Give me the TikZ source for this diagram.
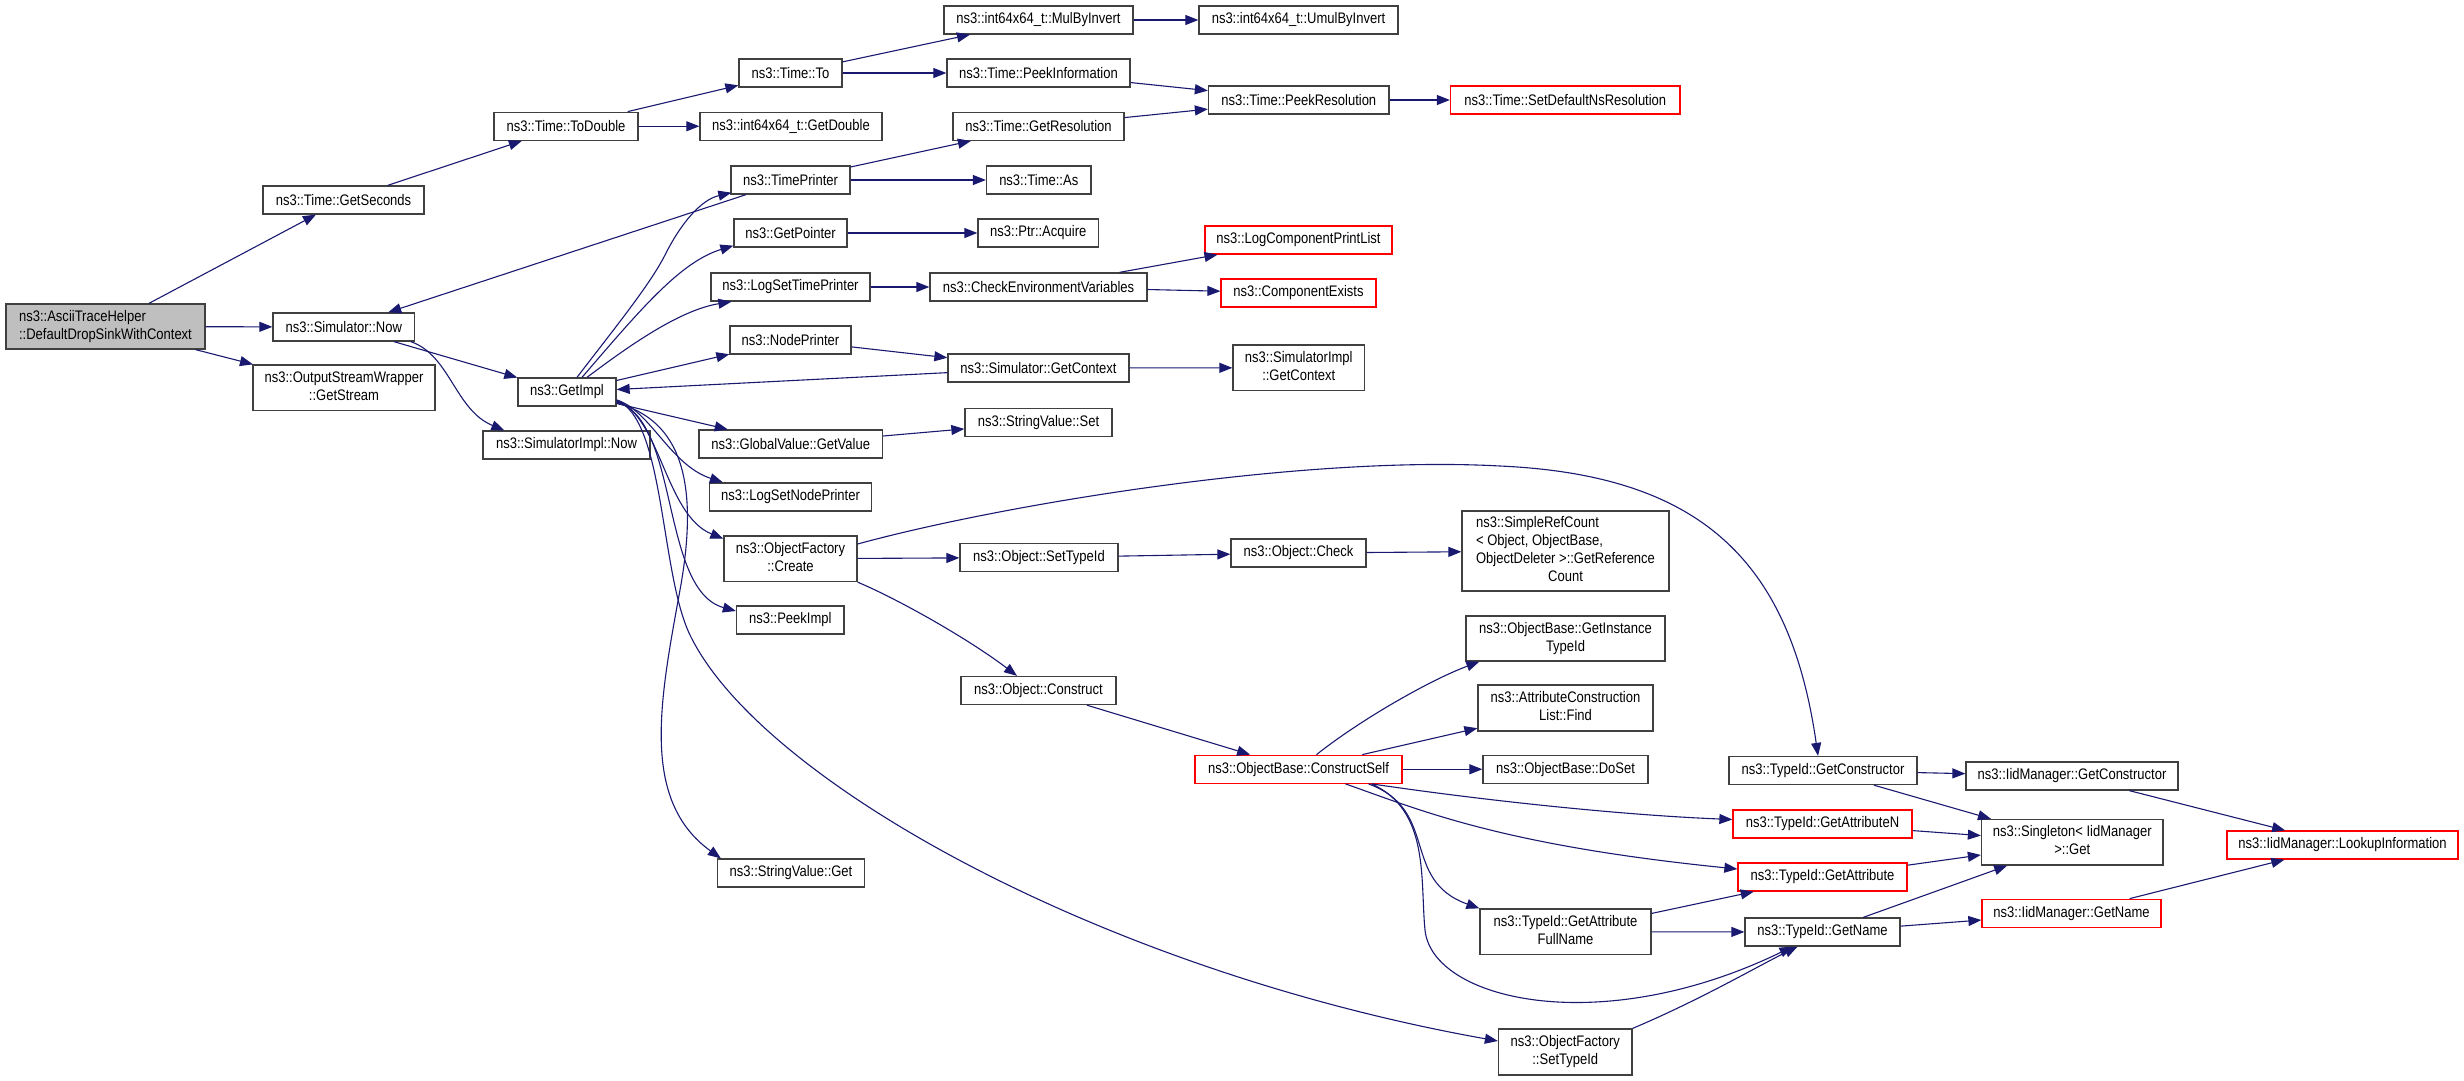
\documentclass[tikz,border=0pt]{standalone}
\usepackage{fontspec}
\setmainfont{Liberation Sans}[FakeStretch=0.85]
\usetikzlibrary{calc,arrows.meta}
\definecolor{edgec}{HTML}{191970}
\definecolor{boxc}{HTML}{404040}
\definecolor{redc}{HTML}{FF0000}
\definecolor{mainfill}{HTML}{BFBFBF}
\newcommand{\mlines}[2]{\begin{tabular}{@{}l@{}}#1\\\multicolumn{1}{@{}c@{}}{#2}\end{tabular}}
\begin{document}
\begin{tikzpicture}[x=1pt,y=-1pt,
 box/.style={draw=boxc, line width=1.3pt, fill=white, inner sep=0pt, minimum height=28pt, font=\fontsize{15.3}{17.9}\selectfont},
 rbox/.style={box, draw=redc},
 e/.style={draw=edgec, line width=1.1pt, -{Triangle[length=13pt,width=10pt]}}]
\useasboundingbox (0,0) rectangle (2464,1080);

% nodes
\node[box, fill=mainfill, minimum width=199pt, minimum height=45pt] (main) at (105.5,326.5) {\mlines{ns3::AsciiTraceHelper}{::DefaultDropSinkWithContext}};
\node[box, minimum width=161pt] (gsec) at (343.5,200) {ns3::Time::GetSeconds};
\node[box, minimum width=141.5pt] (now) at (343.75,327) {ns3::Simulator::Now};
\node[box, minimum width=182pt, minimum height=45.5pt] (gstream) at (344,387.75) {\mlines{ns3::OutputStreamWrapper}{::GetStream}};
\node[box, minimum width=144pt] (todbl) at (566,126.25) {ns3::Time::ToDouble};
\node[box, minimum width=103pt] (timeto) at (790.5,73) {ns3::Time::To};
\node[box, minimum width=182pt] (getdbl) at (791,126.25) {ns3::int64x64\_t::GetDouble};
\node[box, minimum width=189pt] (mulinv) at (1038.5,20) {ns3::int64x64\_t::MulByInvert};
\node[box, minimum width=199pt] (umulinv) at (1298.5,20) {ns3::int64x64\_t::UmulByInvert};
\node[box, minimum width=183pt] (peekinfo) at (1038.5,73) {ns3::Time::PeekInformation};
\node[box, minimum width=180.5pt] (peekres) at (1298.75,100) {ns3::Time::PeekResolution};
\node[rbox, minimum width=229.5pt] (setdef) at (1565.25,100) {ns3::Time::SetDefaultNsResolution};
\node[box, minimum width=171pt] (getres) at (1038.5,126.25) {ns3::Time::GetResolution};
\node[box, minimum width=119pt] (tprint) at (790.5,180) {ns3::TimePrinter};
\node[box, minimum width=104.5pt] (tas) at (1038.75,180) {ns3::Time::As};
\node[box, minimum width=98pt] (getimpl) at (567,392) {ns3::GetImpl};
\node[box, minimum width=167pt] (simnow) at (566.5,445) {ns3::SimulatorImpl::Now};
\node[box, minimum width=113pt] (getptr) at (790.5,233) {ns3::GetPointer};
\node[box, minimum width=120.5pt] (acquire) at (1038.25,233) {ns3::Ptr::Acquire};
\node[box, minimum width=159pt] (logstp) at (790.5,287) {ns3::LogSetTimePrinter};
\node[box, minimum width=217pt] (checkenv) at (1038.5,287) {ns3::CheckEnvironmentVariables};
\node[rbox, minimum width=187pt] (lcpl) at (1298.5,240) {ns3::LogComponentPrintList};
\node[rbox, minimum width=155pt] (cexists) at (1298.5,293) {ns3::ComponentExists};
\node[box, minimum width=121pt] (nprint) at (790.5,340) {ns3::NodePrinter};
\node[box, minimum width=181pt] (getctx) at (1038.5,368) {ns3::Simulator::GetContext};
\node[box, minimum width=131.5pt, minimum height=45.5pt] (simctx) at (1298.75,367.75) {\mlines{ns3::SimulatorImpl}{::GetContext}};
\node[box, minimum width=183.5pt] (gvget) at (790.75,444) {ns3::GlobalValue::GetValue};
\node[box, minimum width=147pt] (svset) at (1038.5,422.5) {ns3::StringValue::Set};
\node[box, minimum width=162pt] (lsnp) at (790.5,497) {ns3::LogSetNodePrinter};
\node[box, minimum width=133pt, minimum height=45.5pt] (ofcreate) at (790.5,558.75) {\mlines{ns3::ObjectFactory}{::Create}};
\node[box, minimum width=158pt] (osettid) at (1039,557.5) {ns3::Object::SetTypeId};
\node[box, minimum width=135pt] (ocheck) at (1298.5,553) {ns3::Object::Check};
\node[box, minimum width=207pt, minimum height=80pt] (srefc) at (1565.5,551) {\mlines{ns3::SimpleRefCount\\< Object, ObjectBase,\\ObjectDeleter >::GetReference}{Count}};
\node[box, minimum width=107.5pt] (peekimpl) at (790.25,620) {ns3::PeekImpl};
\node[box, minimum width=155pt] (oconstruct) at (1038.5,690.5) {ns3::Object::Construct};
\node[rbox, minimum width=207pt] (cself) at (1298.5,769.25) {ns3::ObjectBase::ConstructSelf};
\node[box, minimum width=199pt, minimum height=45pt] (ginst) at (1565.5,638.5) {\mlines{ns3::ObjectBase::GetInstance}{TypeId}};
\node[box, minimum width=175pt, minimum height=46pt] (acfind) at (1565.5,708) {\mlines{ns3::AttributeConstruction}{List::Find}};
\node[box, minimum width=165pt] (doset) at (1565.5,769.25) {ns3::ObjectBase::DoSet};
\node[box, minimum width=147pt] (svget) at (791,873) {ns3::StringValue::Get};
\node[box, minimum width=188pt] (tgctor) at (1823,770.5) {ns3::TypeId::GetConstructor};
\node[rbox, minimum width=179pt] (tgan) at (1822.5,824) {ns3::TypeId::GetAttributeN};
\node[rbox, minimum width=169pt] (tga) at (1822.5,877) {ns3::TypeId::GetAttribute};
\node[box, minimum width=171pt, minimum height=45.5pt] (tgafn) at (1565.5,931.75) {\mlines{ns3::TypeId::GetAttribute}{FullName}};
\node[box, minimum width=155pt] (tgname) at (1822.5,932) {ns3::TypeId::GetName};
\node[box, minimum width=133.5pt, minimum height=46pt] (ofsettid) at (1565.25,1052) {\mlines{ns3::ObjectFactory}{::SetTypeId}};
\node[box, minimum width=212pt] (igctor) at (2072,776) {ns3::IidManager::GetConstructor};
\node[box, minimum width=181.5pt, minimum height=45.5pt] (singleton) at (2072.25,842.25) {\mlines{ns3::Singleton< IidManager}{>::Get}};
\node[rbox, minimum width=231pt] (lookup) at (2342.5,845) {ns3::IidManager::LookupInformation};
\node[rbox, minimum width=179pt] (igname) at (2071.5,913.25) {ns3::IidManager::GetName};

% straight edges
\draw[e] (main) -- (gsec);
\draw[e] (main) -- (now);
\draw[e] (main) -- (gstream);
\draw[e] (gsec) -- (todbl);
\draw[e] (todbl) -- (timeto);
\draw[e] (todbl) -- (getdbl);
\draw[e] (timeto) -- (mulinv);
\draw[e] (timeto) -- (peekinfo);
\draw[e] (mulinv) -- (umulinv);
\draw[e] (peekinfo) -- (peekres);
\draw[e] (getres) -- (peekres);
\draw[e] (peekres) -- (setdef);
\draw[e] (tprint) -- (getres);
\draw[e] (tprint) -- (tas);
\draw[e] (tprint) -- (now);
\draw[e] (now) -- (getimpl);
\draw[e] (getptr) -- (acquire);
\draw[e] (logstp) -- (checkenv);
\draw[e] (checkenv) -- (lcpl);
\draw[e] (checkenv) -- (cexists);
\draw[e] (getimpl) -- (nprint);
\draw[e] (nprint) -- (getctx);
\draw[e] (getctx) -- (getimpl);
\draw[e] (getctx) -- (simctx);
\draw[e] (getimpl) -- (gvget);
\draw[e] (gvget) -- (svset);
\draw[e] (ofcreate) -- (osettid);
\draw[e] (osettid) -- (ocheck);
\draw[e] (ocheck) -- (srefc);
\draw[e] (oconstruct) -- (cself);
\draw[e] (cself) -- (acfind);
\draw[e] (cself) -- (doset);
\draw[e] (tgafn) -- (tga);
\draw[e] (tgafn) -- (tgname);
\draw[e] (tgctor) -- (igctor);
\draw[e] (tgctor) -- (singleton);
\draw[e] (tgan) -- (singleton);
\draw[e] (tga) -- (singleton);
\draw[e] (tgname) -- (singleton);
\draw[e] (tgname) -- (igname);
\draw[e] (igctor) -- (lookup);
\draw[e] (igname) -- (lookup);

% curved edges
\draw[e] ($(now.south)+(67,0)$) .. controls (450,355) and (455,410) .. ($(simnow.north west)+(22,0)$);
\draw[e] ($(getimpl.north)+(10,0)$) .. controls (610,334) and (650,285) .. (665,255) .. controls (680,225) and (700,200) .. ($(tprint.south west)+(1,-2)$);
\draw[e] ($(getimpl.north)+(15,0)$) .. controls (640,310) and (680,262) .. ($(getptr.south west)+(0,-2)$);
\draw[e] ($(getimpl.north)+(20,0)$) .. controls (630,345) and (680,310) .. ($(logstp.south west)+(21,0)$);
\draw[e] ($(getimpl.east)+(0,8)$) .. controls (650,410) and (670,465) .. ($(lsnp.north west)+(14,0)$);
\draw[e] ($(getimpl.east)+(0,9)$) .. controls (660,415) and (665,515) .. ($(ofcreate.west)+(0,-20)$);
\draw[e] ($(getimpl.east)+(0,10)$) .. controls (680,420) and (660,590) .. ($(peekimpl.west)+(0,-9)$);
\draw[e] ($(getimpl.east)+(0,11)$) .. controls (680,420) and (700,480) .. (680,590) .. controls (660,700) and (640,800) .. ($(svget.north west)+(4,0)$);
\draw[e] ($(getimpl.east)+(0,8)$) .. controls (665,420) and (660,573) .. (690,635) .. controls (760,780) and (1100,970) .. ($(ofsettid.west)+(0,-11)$);
\draw[e] (ofcreate.south east) .. controls (900,600) and (970,640) .. ($(oconstruct.north)+(-21.5,0)$);
\draw[e] ($(ofcreate.east)+(0,-14.75)$) .. controls (1000,505) and (1300,455) .. (1500,466) .. controls (1700,475) and (1790,560) .. ($(tgctor.north)+(-5,0)$);
\draw[e] ($(cself.north)+(18,0)$) .. controls (1360,720) and (1430,680) .. ($(ginst.south west)+(14,0)$);
\draw[e] ($(cself.south)+(73.5,0)$) .. controls (1480,800) and (1620,815) .. ($(tgan.west)+(0,-4.5)$);
\draw[e] ($(cself.south)+(47,0)$) .. controls (1420,810) and (1500,845) .. ($(tga.west)+(0,-8)$);
\draw[e] ($(cself.south)+(70,0)$) .. controls (1440,810) and (1400,880) .. (tgafn.north west);
\draw[e] ($(cself.south)+(73,0)$) .. controls (1430,810) and (1420,880) .. (1425,930) .. controls (1432,1000) and (1600,1040) .. ($(tgname.south)+(-30,0)$);
\draw[e] (ofsettid.north east) .. controls (1700,1000) and (1760,965) .. ($(tgname.south)+(-25,0)$);
\end{tikzpicture}
\end{document}
